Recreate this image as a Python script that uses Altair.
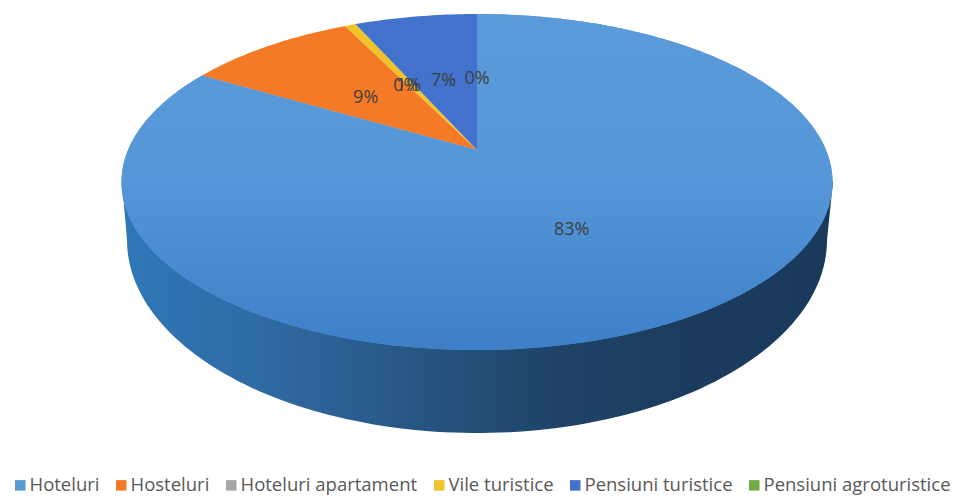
import numpy as np
import pandas as pd
import altair as alt

# Accommodation types and their share of the total, in percent
categories = ["Hoteluri", "Hosteluri", "Hoteluri apartament", "Vile turistice",
              "Pensiuni turistice", "Pensiuni agroturistice"]
shares = [83.4, 9.3, 0.0, 0.6, 6.7, 0.0]
colors = ["#5b9bd5", "#f47a28", "#a5a5a5", "#f0c428", "#4272cc", "#70ad47"]

W, H = 956, 497
# Perspective of the tilted disc: hub position and projection constants
HUB_X, HUB_Y = 477, 150
SPAN_X, SPAN_Y, TILT = 349.0, 161.9, 0.1905


def project(theta, r=1.0):
    """Map a clockwise angle from twelve o'clock and a radius onto the tilted disc."""
    u, v = r * np.sin(theta), r * np.cos(theta)
    d = 1 + TILT * v
    return HUB_X + SPAN_X * u / d, HUB_Y - SPAN_Y * v / d


# Sector outlines and label anchors, accumulated from the shares
sector_rows, label_rows = [], []
cum = 0.0
for cat, share in zip(categories, shares):
    a0 = cum / 100 * 2 * np.pi
    a1 = (cum + share) / 100 * 2 * np.pi
    if share > 0:
        sector_rows.append({"cat": cat, "i": 0, "x": HUB_X, "y": HUB_Y})
        steps = max(4, int(share * 4))
        for i, t in enumerate(np.linspace(a0, a1, steps)):
            x, y = project(t)
            sector_rows.append({"cat": cat, "i": i + 1, "x": x, "y": y})
    lx, ly = project((a0 + a1) / 2, 0.5)
    label_rows.append({"cat": cat, "x": lx, "y": ly, "text": f"{round(share)}%"})
    cum += share
sectors = pd.DataFrame(sector_rows)
labels = pd.DataFrame(label_rows)

# Outer wall of the disc: lower rim of the base, closed behind the top face
wall_angles = np.linspace(np.pi, 0, 120)
wall = pd.DataFrame({
    "i": range(122),
    "x": [122.0] + list(477 + 350 * np.cos(wall_angles)) + [833.0],
    "y": [182.0] + list(240 + 193 * np.sin(wall_angles)) + [182.0],
})

x_enc = alt.X("x:Q", scale=alt.Scale(domain=[0, W]), axis=None)
y_enc = alt.Y("y:Q", scale=alt.Scale(domain=[H, 0]), axis=None)

wall_layer = alt.Chart(wall).mark_line(
    strokeWidth=0,
    fill=alt.Gradient(
        gradient="linear", x1=0, x2=1, y1=0, y2=0,
        stops=[
            alt.GradientStop(color="#2e78b8", offset=0.0),
            alt.GradientStop(color="#2f6aa3", offset=0.2),
            alt.GradientStop(color="#275582", offset=0.42),
            alt.GradientStop(color="#1f4468", offset=0.6),
            alt.GradientStop(color="#1b3c5e", offset=0.8),
            alt.GradientStop(color="#1a3a5c", offset=1.0),
        ],
    ),
).encode(x=x_enc, y=y_enc, order="i:Q")

sector_layer = alt.Chart(sectors).mark_line(strokeWidth=0).encode(
    x=x_enc,
    y=y_enc,
    order="i:Q",
    fill=alt.Fill(
        "cat:N",
        scale=alt.Scale(domain=categories, range=colors),
        sort=categories,
        legend=alt.Legend(
            title=None,
            orient="none",
            legendX=11,
            legendY=476,
            direction="horizontal",
            columns=6,
            columnPadding=12,
            symbolType="square",
            symbolSize=110,
            symbolStrokeWidth=0,
            labelOffset=0,
            labelFont="Open Sans",
            labelFontSize=18.5,
            labelColor="#595959",
            labelLimit=260,
        ),
    ),
)

# The large sector fades downward, so it gets its own shaded fill
main_layer = alt.Chart(sectors[sectors["cat"] == categories[0]]).mark_line(
    strokeWidth=0,
    fill=alt.Gradient(
        gradient="linear", x1=0, x2=0, y1=0, y2=1,
        stops=[
            alt.GradientStop(color="#5b9bd9", offset=0.0),
            alt.GradientStop(color="#5596d8", offset=0.5),
            alt.GradientStop(color="#3d80c8", offset=1.0),
        ],
    ),
).encode(x=x_enc, y=y_enc, order="i:Q")

text_layer = alt.Chart(labels).mark_text(
    font="Open Sans", fontSize=18, color="#404040", dy=3
).encode(x=x_enc, y=y_enc, text="text:N")

chart = alt.layer(wall_layer, sector_layer, main_layer, text_layer).properties(
    width=W, height=H, padding=0, autosize=alt.AutoSizeParams(type="none"),
    background="white",
).configure_view(stroke=None)

chart.save("out.html", embed_options={"renderer": "svg", "actions": False})
